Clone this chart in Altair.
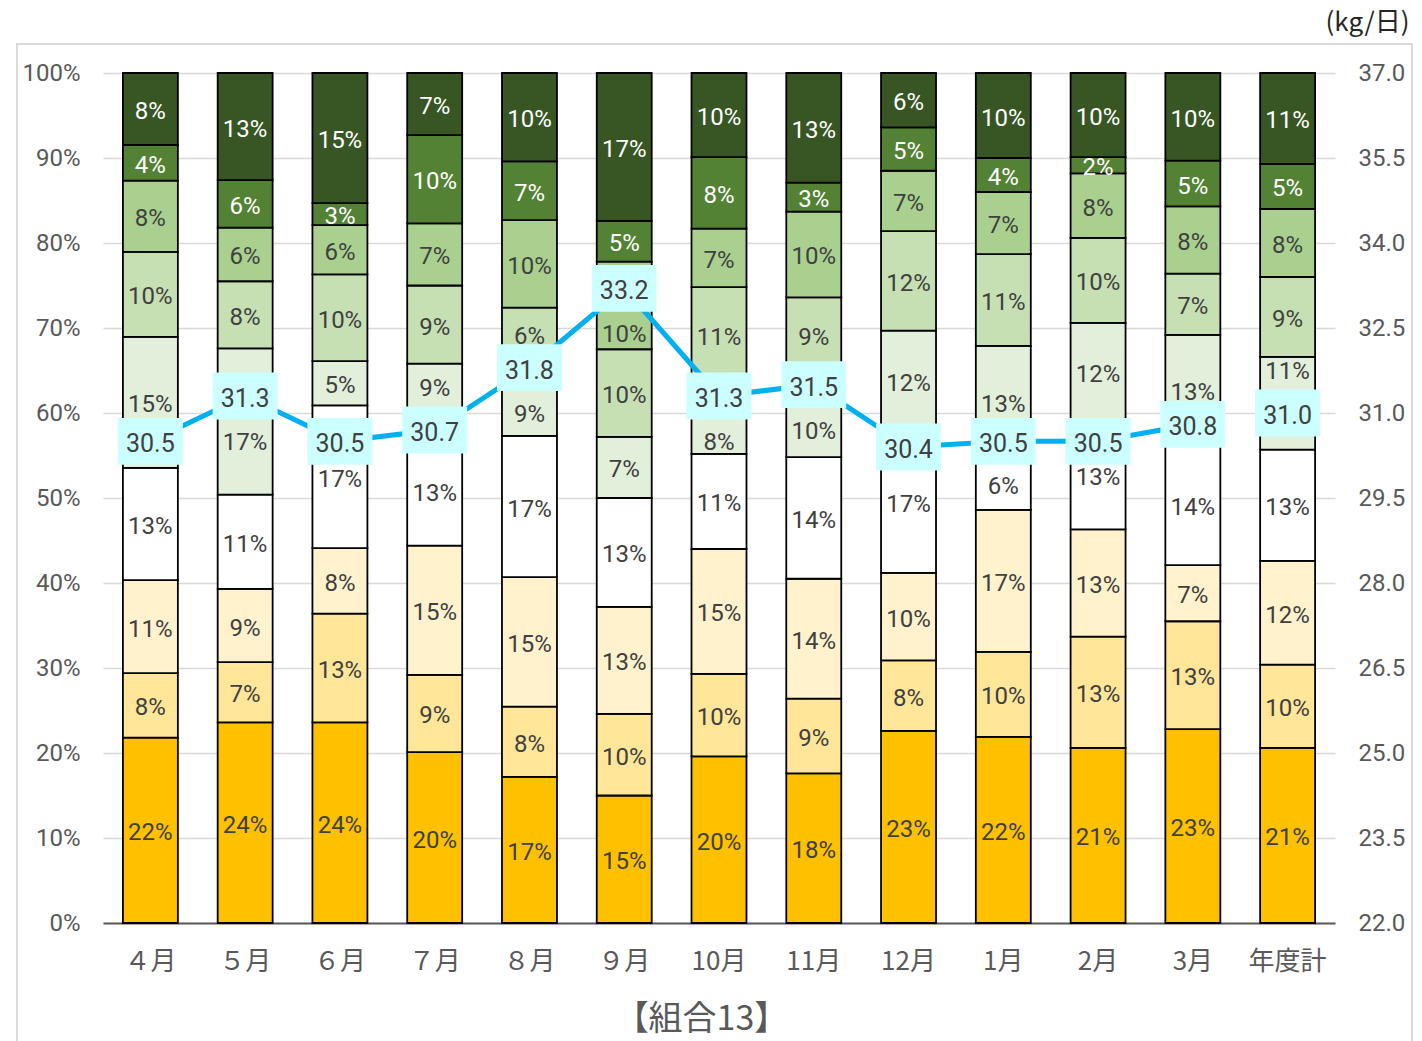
import altair as alt
import pandas as pd

# ---- data -------------------------------------------------------------
months = ["４月", "５月", "６月", "７月", "８月", "９月", "10月", "11月", "12月",
          "1月", "2月", "3月", "年度計"]

# composition share (%) of each component, listed bottom to top of the stack
comp1 = [21.8, 23.6, 23.6, 20.1, 17.2, 15.0, 19.6, 17.6, 22.6, 21.9, 20.6, 22.8, 20.6]
comp2 = [7.6, 7.1, 12.8, 9.1, 8.25, 9.6, 9.7, 8.8, 8.3, 10.0, 13.1, 12.7, 9.8]
comp3 = [10.95, 8.6, 7.7, 15.2, 15.25, 12.6, 14.7, 14.1, 10.3, 16.7, 12.6, 6.6, 12.2]
comp4 = [13.2, 11.1, 16.8, 12.8, 16.6, 12.8, 11.2, 14.3, 16.7, 6.2, 12.7, 14.1, 13.1]
comp5 = [15.4, 17.2, 5.2, 8.6, 8.9, 7.2, 8.3, 10.0, 11.8, 13.1, 11.6, 13.0, 10.9]
comp6 = [10.0, 7.9, 10.2, 9.2, 6.2, 10.3, 11.3, 8.8, 11.7, 10.8, 10.0, 7.2, 9.4]
comp7 = [8.4, 6.3, 5.8, 7.3, 10.3, 10.3, 6.9, 10.1, 7.1, 7.3, 7.6, 7.9, 8.0]
comp8 = [4.2, 5.6, 2.6, 10.4, 6.9, 4.8, 8.4, 3.4, 5.1, 4.0, 1.9, 5.4, 5.3]
comp9 = [8.45, 12.6, 15.3, 7.3, 10.4, 17.4, 9.9, 12.9, 6.4, 10.0, 9.9, 10.3, 10.7]
shares = [comp1, comp2, comp3, comp4, comp5, comp6, comp7, comp8, comp9]

# daily amount (kg/日)
amount = [30.5, 31.3, 30.5, 30.7, 31.8, 33.2, 31.3, 31.5, 30.4, 30.5, 30.5, 30.8, 31.0]

comp_names = [f"区分{i}" for i in range(1, 10)]
colors = ["#FFC000", "#FFE699", "#FFF2CC", "#FFFFFF", "#E2EFDA",
          "#C6E0B4", "#A9D08E", "#548235", "#375623"]
text_colors = ["#404040"] * 7 + ["#FFFFFF"] * 2

# ---- layout -------------------------------------------------------------
PLOT_W, PLOT_H = 1232, 850
AMT_MIN, AMT_MAX = 22.0, 37.0
CJK = "Noto Sans CJK JP"
NUM_FONT = "Roboto, Noto Sans CJK JP, sans-serif"


def px_to_pct(px):
    return px * 100.0 / PLOT_H


# stacked segments; a label that would sit under the amount badge is moved
# just outside the badge (kept inside its own segment)
rows = []
for mi, m in enumerate(months):
    badge = (amount[mi] - AMT_MIN) / (AMT_MAX - AMT_MIN) * 100.0
    base = 0.0
    for ci, series in enumerate(shares):
        v = series[mi]
        y0, y1 = base, base + v
        base = y1
        c = (y0 + y1) / 2.0
        if abs(c - badge) < px_to_pct(33):
            c = badge + px_to_pct(44) * (1 if c >= badge else -1)
            c = min(max(c, y0 + px_to_pct(12)), y1 - px_to_pct(12))
        rows.append(dict(month=m, comp=comp_names[ci], y0=y0, y1=y1,
                         label=f"{round(v)}%", label_y=c, tcolor=text_colors[ci]))
seg_df = pd.DataFrame(rows)

amt_df = pd.DataFrame({
    "month": months,
    "amount": amount,
    "label": [f"{a:.1f}" for a in amount],
    "kind": ["month"] * 12 + ["total"],
})

# ---- encodings ----------------------------------------------------------
x_enc = alt.X(
    "month:N", sort=months,
    scale=alt.Scale(paddingInner=0.42, paddingOuter=0.21),
    axis=alt.Axis(
        title="【組合13】", labelAngle=0, ticks=False,
        domainColor="#595959", domainWidth=2,
        labelFont=CJK, labelFontSize=26, labelColor="#595959", labelPadding=25,
        titleFont=CJK, titleFontSize=34, titleFontWeight="normal",
        titleColor="#595959", titleX=598, titleY=106,
        titleBaseline="alphabetic", titleAlign="center",
    ),
)

pct_scale = alt.Scale(domain=[0, 100], nice=False)
y_pct = alt.Y(
    "y0:Q", scale=pct_scale,
    axis=alt.Axis(
        values=list(range(0, 101, 10)), labelExpr="datum.value + '%'",
        title=None, domain=False, ticks=False,
        gridColor="#D9D9D9", gridWidth=1.5,
        labelFont=NUM_FONT, labelFontSize=24, labelColor="#595959", labelPadding=23,
    ),
)

amt_scale = alt.Scale(domain=[AMT_MIN, AMT_MAX], nice=False, zero=False)
y_amt = alt.Y(
    "amount:Q", scale=amt_scale,
    axis=alt.Axis(
        orient="right", values=[AMT_MIN + 1.5 * i for i in range(11)], format=".1f",
        grid=False, domain=False, ticks=False,
        labelFont=NUM_FONT, labelFontSize=24, labelColor="#595959", labelPadding=23,
        title="(kg/日)", titleAngle=0, titleX=32, titleY=-43,
        titleBaseline="alphabetic", titleAlign="center",
        titleFont=CJK, titleFontSize=26, titleFontWeight="normal", titleColor="#262626",
    ),
)

# ---- marks --------------------------------------------------------------
frame = alt.Chart(pd.DataFrame({"k": [0]})).mark_rect(
    fill="#FFFFFF", fillOpacity=0, stroke="#D9D9D9", strokeWidth=2
).encode(
    x=alt.value(-86), x2=alt.value(1309), y=alt.value(-29), y2=alt.value(1100)
)

bars = alt.Chart(seg_df).mark_bar(stroke="#000000", strokeWidth=1.8).encode(
    x=x_enc,
    y=y_pct,
    y2="y1:Q",
    color=alt.Color("comp:N", scale=alt.Scale(domain=comp_names, range=colors), legend=None),
)

seg_text = alt.Chart(seg_df).mark_text(
    font=NUM_FONT, fontSize=24, baseline="middle", align="center", dy=3
).encode(
    x=x_enc,
    y=alt.Y("label_y:Q", scale=pct_scale),
    text="label:N",
    color=alt.Color("tcolor:N", scale=None),
)

line = alt.Chart(amt_df).transform_filter(alt.datum.kind == "month").mark_line(
    color="#00B0F0", strokeWidth=5
).encode(x=x_enc, y=y_amt)

badges = alt.Chart(amt_df).mark_point(
    shape="M-1,-0.72L1,-0.72L1,0.72L-1,0.72Z", size=65 ** 2,
    filled=True, color="#CCFFFF", opacity=1, strokeWidth=0,
).encode(x=x_enc, y=y_amt)

badge_text = alt.Chart(amt_df).mark_text(
    font=NUM_FONT, fontSize=25, color="#404040", baseline="middle", align="center", dy=3
).encode(x=x_enc, y=y_amt, text="label:N")

left = alt.layer(frame, bars, seg_text)
right = alt.layer(line, badges, badge_text)

chart = alt.layer(left, right).resolve_scale(y="independent").properties(
    width=PLOT_W, height=PLOT_H,
    padding={"left": 103, "top": 73, "right": 87, "bottom": 118},
    autosize=alt.AutoSizeParams(type="none"),
    background="#FFFFFF",
).configure_view(stroke=None)

chart.save("out.html", embed_options={"renderer": "svg", "actions": False})
